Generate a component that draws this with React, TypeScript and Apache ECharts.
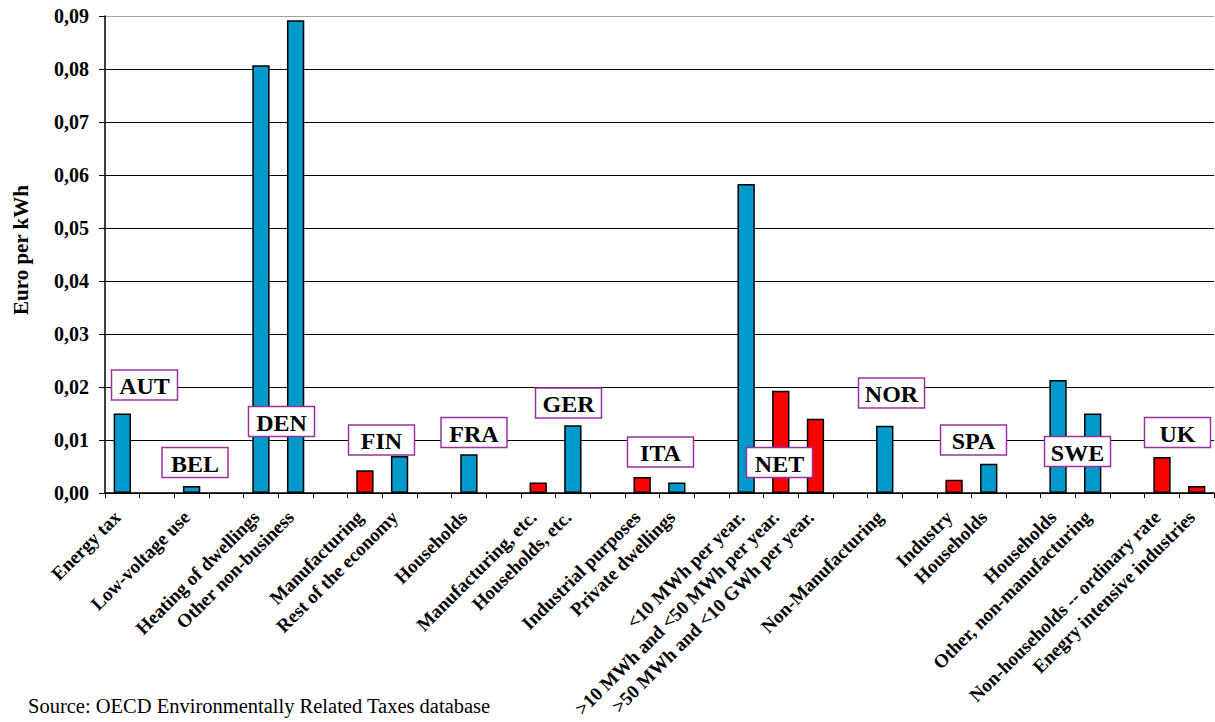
import React, { useEffect, useRef } from 'react';
import * as echarts from 'echarts';

// Tax rate categories, one slot each; empty strings are spacer slots between countries
const categories: string[] = [
  'Energy tax', '',
  'Low-voltage use', '',
  'Heating of dwellings', 'Other non-business', '',
  'Manufacturing', 'Rest of the economy', '',
  'Households', '',
  'Manufacturing, etc.', 'Households, etc.', '',
  'Industrial purposes', 'Private dwellings', '',
  '<10 MWh per year.', '>10 MWh and <50 MWh per year.', '>50 MWh and <10 GWh per year.', '',
  'Non-Manufacturing', '',
  'Industry', 'Households', '',
  'Households', 'Other, non-manufacturing', '',
  'Non-households -- ordinary rate', 'Enegry intensive industries',
];

// Euro per kWh, standard rates (blue)
const standardRates: (number | null)[] = [
  0.0150, null,
  0.0013, null,
  0.0807, 0.0892, null,
  null, 0.0070, null,
  0.0073, null,
  null, 0.0128, null,
  null, 0.0020, null,
  0.0583, null, null, null,
  0.0127, null,
  null, 0.0055, null,
  0.0213, 0.0150, null,
  null, null,
];

// Euro per kWh, reduced rates (red)
const reducedRates: (number | null)[] = [
  null, null,
  null, null,
  null, null, null,
  0.0043, null, null,
  null, null,
  0.0020, null, null,
  0.0030, null, null,
  null, 0.0193, 0.0140, null,
  null, null,
  0.0025, null, null,
  null, null, null,
  0.0068, 0.0013,
];

const countries: string[] = ['AUT', 'BEL', 'DEN', 'FIN', 'FRA', 'GER', 'ITA', 'NET', 'NOR', 'SPA', 'SWE', 'UK'];

const yMin = 0;
const yMax = 0.09;
const yStep = 0.01;

// Placement of the country tags (pixel centres)
const tagCentres: [number, number][] = [
  [144.5, 385], [195, 462.5], [281.5, 421.5], [381.5, 440], [474, 432.5], [568.5, 403],
  [660.5, 452], [779.5, 462.5], [891.5, 393], [973.5, 440], [1077.5, 451.5], [1177.5, 432.5],
];

const SERIF = "'Liberation Serif', 'Times New Roman', Times, serif";
const BLUE = '#0099CC';
const RED = '#FF0000';
const TAG_BORDER = '#993399';

export default function App() {
  const ref = useRef<HTMLDivElement>(null);

  useEffect(() => {
    if (!ref.current) return;
    const chart = echarts.init(ref.current, undefined, { renderer: 'svg' });

    const tagW = 66;
    const tagH = 30;
    const tags: any[] = [];
    countries.forEach((name, i) => {
      const [cx, cy] = tagCentres[i];
      tags.push({
        type: 'rect',
        z: 100,
        shape: { x: cx - tagW / 2, y: cy - tagH / 2, width: tagW, height: tagH },
        style: { fill: '#ffffff', stroke: TAG_BORDER, lineWidth: 1.5 },
      });
      tags.push({
        type: 'text',
        z: 101,
        x: cx,
        y: cy + 1,
        style: {
          text: name,
          font: `bold 24px ${SERIF}`,
          fill: '#000',
          align: 'center',
          verticalAlign: 'middle',
        },
      });
    });

    // grid lines: black, except the top border line which is grey
    const gridColors = Array.from({ length: 10 }, (_, i) => (i === 9 ? '#a0a0a0' : '#000'));

    chart.setOption({
      animation: false,
      backgroundColor: '#ffffff',
      grid: {
        left: 105,
        right: 1,
        top: 16,
        bottom: 229,
        containLabel: false,
        outerBoundsMode: 'none',
      },
      xAxis: {
        type: 'category',
        data: categories.map((_, i) => String(i)),
        boundaryGap: true,
        axisLine: { lineStyle: { color: '#000', width: 1.5 } },
        axisTick: { show: true, interval: 0, length: 5, lineStyle: { color: '#000', width: 1 } },
        axisLabel: {
          interval: 0,
          rotate: 45,
          margin: 16,
          color: '#000',
          fontFamily: SERIF,
          fontWeight: 'bold',
          fontSize: 19,
          formatter: (_v: string, idx: number) => (categories[idx] ? `${categories[idx]}{sp| }` : ''),
          rich: {
            sp: { width: 7, fontSize: 19, fontFamily: SERIF },
          },
        },
        splitLine: { show: false },
      },
      yAxis: {
        type: 'value',
        min: yMin,
        max: yMax,
        interval: yStep,
        axisLine: { show: true, lineStyle: { color: '#000', width: 1.5 } },
        axisTick: { show: true, inside: false, length: 6, lineStyle: { color: '#000', width: 1 } },
        axisLabel: {
          margin: 16,
          color: '#000',
          fontFamily: SERIF,
          fontWeight: 'bold',
          fontSize: 20,
          formatter: (v: number) => v.toFixed(2).replace('.', ','),
        },
        splitLine: { show: true, lineStyle: { color: gridColors, width: 1 } },
      },
      series: [
        {
          name: 'Standard rate',
          type: 'bar',
          stack: 'rate',
          barWidth: '50%',
          z: 2,
          data: standardRates,
          itemStyle: { color: BLUE, borderColor: '#000', borderWidth: 1.5 },
        },
        {
          name: 'Reduced rate',
          type: 'bar',
          stack: 'rate',
          barWidth: '50%',
          z: 2,
          data: reducedRates,
          itemStyle: { color: RED, borderColor: '#000', borderWidth: 1.5 },
        },
      ],
      graphic: {
        elements: [
          ...tags,
          {
            type: 'text',
            x: 21,
            y: 250,
            rotation: Math.PI / 2,
            z: 100,
            style: {
              text: 'Euro per kWh',
              font: `bold 21px ${SERIF}`,
              fill: '#000',
              align: 'center',
              verticalAlign: 'middle',
            },
          },
          {
            type: 'text',
            x: 28,
            y: 706,
            z: 100,
            style: {
              text: 'Source: OECD Environmentally Related Taxes database',
              font: `20.5px ${SERIF}`,
              fill: '#000',
              align: 'left',
              verticalAlign: 'middle',
            },
          },
        ],
      },
    });

    return () => chart.dispose();
  }, []);

  return (
    <div
      ref={ref}
      style={{ position: 'absolute', left: 0, top: 0, width: 1215, height: 722, background: '#fff' }}
    />
  );
}
